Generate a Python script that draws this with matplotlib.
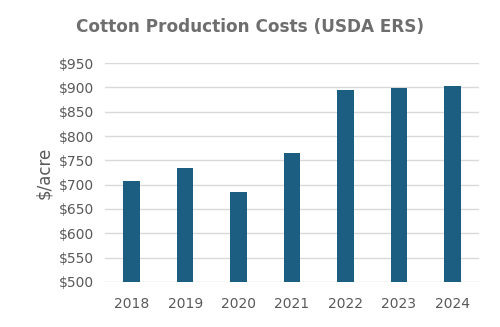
import matplotlib.pyplot as plt

years = ["2018", "2019", "2020", "2021", "2022", "2023", "2024"]
costs = [708, 734, 685, 766, 894, 899, 902]
yticks = [500, 550, 600, 650, 700, 750, 800, 850, 900, 950]

bar_color = "#1b5e82"
text_color = "#595959"

fig = plt.figure(figsize=(5, 3.27), dpi=100)
ax = fig.add_axes([0.21, 0.138, 0.748, 0.669])

ax.bar(range(len(years)), costs, width=0.31, color=bar_color, zorder=3)

ax.set_xlim(-0.5, len(years) - 0.5)
ax.set_ylim(500, 950)
ax.set_yticks(yticks)
ax.set_yticklabels([f"${v}" for v in yticks])
ax.set_xticks(range(len(years)))
ax.set_xticklabels(years)

ax.grid(axis="y", color="#d9d9d9", linewidth=1, zorder=0)
for side in ["top", "right", "left", "bottom"]:
    ax.spines[side].set_visible(False)
ax.tick_params(axis="both", length=0, labelsize=10, colors=text_color)
ax.tick_params(axis="x", pad=11)
ax.tick_params(axis="y", pad=8)

ax.set_ylabel("$/acre", fontsize=12, color=text_color, labelpad=4)
fig.text(0.5, 0.917, "Cotton Production Costs (USDA ERS)", ha="center",
         va="center", fontsize=12.2, fontweight="bold", color="#6e6e6e")

fig.savefig("out.png", dpi=100)
